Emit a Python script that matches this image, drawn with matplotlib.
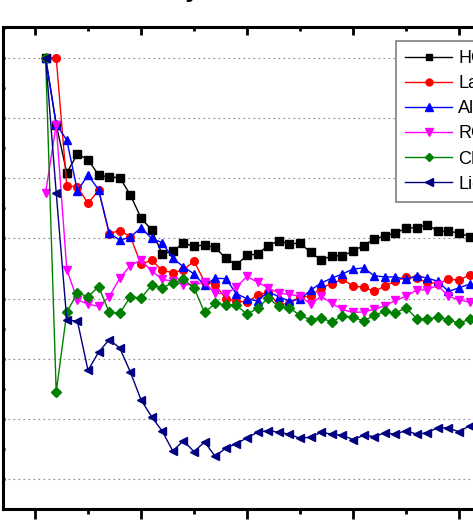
import numpy as np
import matplotlib
matplotlib.use("Agg")
import matplotlib.pyplot as plt
from matplotlib.ticker import MultipleLocator

plt.rcParams["font.family"] = ["Liberation Sans", "DejaVu Sans"]

# ── 데이터 ───────────────────────────────────────
x = np.arange(1, 42)

labels = ["HOG", "Lab", "All", "RGB", "CN", "Lidar"]

h_vals = [1.0, 0.889, 0.809, 0.840, 0.831, 0.805, 0.802, 0.801, 0.772, 0.734,
          0.714, 0.674, 0.679, 0.692, 0.687, 0.689, 0.685, 0.667, 0.656, 0.672,
          0.674, 0.688, 0.696, 0.691, 0.692, 0.677, 0.664, 0.671, 0.671, 0.679,
          0.688, 0.699, 0.704, 0.709, 0.717, 0.718, 0.723, 0.712, 0.712, 0.709,
          0.703]
la_vals = [1.0, 1.0, 0.787, 0.786, 0.758, 0.780, 0.708, 0.713, 0.703, 0.657,
           0.664, 0.647, 0.643, 0.648, 0.662, 0.628, 0.623, 0.600, 0.596, 0.594,
           0.606, 0.611, 0.589, 0.593, 0.603, 0.604, 0.618, 0.625, 0.632, 0.621,
           0.619, 0.612, 0.621, 0.629, 0.636, 0.634, 0.627, 0.625, 0.632, 0.631,
           0.639]
a_vals = [1.0, 0.890, 0.863, 0.779, 0.805, 0.781, 0.709, 0.697, 0.702, 0.718,
          0.700, 0.693, 0.667, 0.653, 0.641, 0.622, 0.634, 0.633, 0.608, 0.600,
          0.596, 0.612, 0.603, 0.596, 0.599, 0.614, 0.626, 0.634, 0.641, 0.649,
          0.651, 0.638, 0.636, 0.636, 0.632, 0.638, 0.634, 0.629, 0.612, 0.618,
          0.624]
r_vals = [0.776, 0.889, 0.648, 0.598, 0.591, 0.587, 0.603, 0.634, 0.655, 0.664,
          0.646, 0.632, 0.629, 0.623, 0.623, 0.627, 0.609, 0.608, 0.619, 0.637,
          0.627, 0.618, 0.609, 0.607, 0.604, 0.591, 0.604, 0.592, 0.582, 0.577,
          0.578, 0.582, 0.588, 0.597, 0.604, 0.614, 0.615, 0.622, 0.604, 0.598,
          0.594]
c_vals = [1.0, 0.445, 0.577, 0.610, 0.603, 0.620, 0.577, 0.576, 0.603, 0.601,
          0.622, 0.618, 0.626, 0.632, 0.618, 0.577, 0.592, 0.590, 0.589, 0.574,
          0.584, 0.601, 0.587, 0.585, 0.572, 0.565, 0.568, 0.561, 0.571, 0.569,
          0.563, 0.572, 0.579, 0.576, 0.585, 0.567, 0.566, 0.569, 0.565, 0.559,
          0.566]
li_vals = [1.0, 0.776, 0.564, 0.563, 0.481, 0.511, 0.532, 0.518, 0.478, 0.432,
           0.404, 0.380, 0.347, 0.364, 0.346, 0.362, 0.338, 0.352, 0.359, 0.369,
           0.378, 0.381, 0.378, 0.375, 0.368, 0.370, 0.378, 0.375, 0.373, 0.366,
           0.373, 0.371, 0.377, 0.375, 0.381, 0.375, 0.377, 0.386, 0.385, 0.379,
           0.389]

series = [h_vals, la_vals, a_vals, r_vals, c_vals, li_vals]
colors = ["#000000", "#FF0000", "#0000FF", "#FF00FF", "#008000", "#000080"]
markers = ["s", "o", "^", "v", "D", "<"]
msizes = [5.5, 5.5, 6, 6, 5, 6]

# ── 그림 ─────────────────────────────────────────
W, H = 473, 522
fig = plt.figure(figsize=(W / 100, H / 100), dpi=100)
ax_l, ax_r = 3.2, 533.2
ax_t, ax_b = 26.7, 508.7
ax = fig.add_axes([ax_l / W, (H - ax_b) / H, (ax_r - ax_l) / W, (ax_b - ax_t) / H])

for vals, col, mk, ms, lab in zip(series, colors, markers, msizes, labels):
    ax.plot(x, vals, color=col, marker=mk, markersize=ms, linewidth=1.0,
            label=lab)

ax.set_xlim(-3, 47)
ax.set_ylim(0.2512, 1.0515)

ax.xaxis.set_major_locator(MultipleLocator(10))
ax.xaxis.set_minor_locator(MultipleLocator(5))
ax.yaxis.set_major_locator(MultipleLocator(0.1))
ax.yaxis.set_minor_locator(MultipleLocator(0.05))

ax.grid(axis="y", which="major", linestyle=(0, (1.5, 3)), color="#8a8a8a",
        linewidth=0.8)
ax.grid(axis="x", visible=False)

for sp in ax.spines.values():
    sp.set_linewidth(2.2)

ax.tick_params(axis="x", which="major", direction="out", length=7, width=2,
               top=True, labelbottom=False)
ax.tick_params(axis="x", which="minor", direction="out", length=3.5, width=2,
               top=True)
ax.tick_params(axis="y", which="both", direction="in", length=1.6, width=2,
               labelleft=False)
# 위쪽 눈금은 안쪽으로
for t in ax.xaxis.get_major_ticks():
    t.tick2line.set_markersize(5.8)
for t in ax.xaxis.get_minor_ticks():
    t.tick2line.set_markersize(3)
for t in ax.xaxis.get_major_ticks() + ax.xaxis.get_minor_ticks():
    t.tick2line.set_marker(3)  # TICKDOWN from top spine

leg = ax.legend(loc="upper left", bbox_to_anchor=((396 - ax_l) / (ax_r - ax_l),
                                                  (ax_b - 41) / (ax_b - ax_t)),
                borderaxespad=0, fontsize=13, frameon=True, fancybox=False,
                edgecolor="#7f7f7f", framealpha=1, handlelength=2.6,
                handletextpad=0.35, labelspacing=0.45, borderpad=0.5,
                markerscale=0.9)
leg.get_frame().set_linewidth(1.2)

# 잘린 제목
fig.text(200 / W, 1 + 2.5 / H, "Accuracy", ha="right", va="baseline",
         fontsize=18, fontweight="bold")

fig.savefig("out.png", dpi=100)
